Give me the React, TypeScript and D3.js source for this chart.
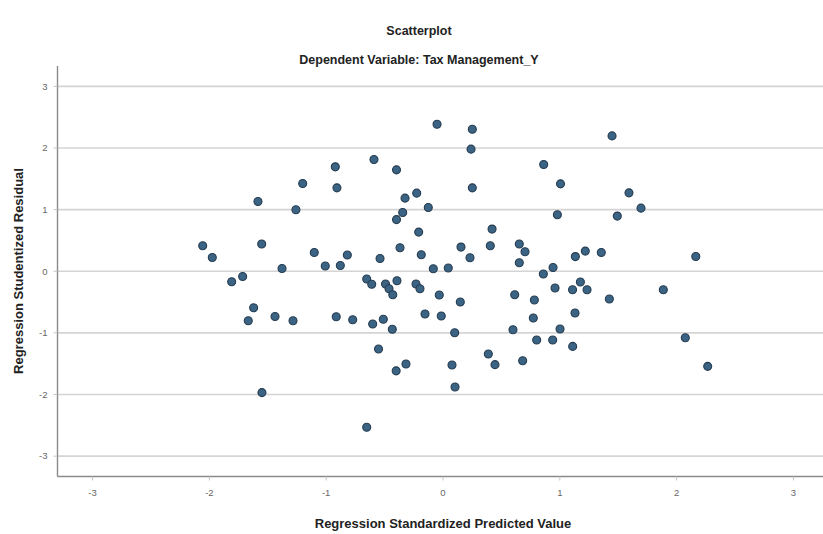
import React from "react";
import * as d3 from "d3";

// Regression Standardized Predicted Value (x) and Studentized Residual (y)
const predicted = [
  -2.057, -1.975, -1.809, -1.715, -1.584, -1.552, -1.378, -1.259, -1.201, -1.102,
  -1.008, -0.922, -0.908, -0.879, -0.819, -0.653, -0.61, -0.591, -0.539, -0.492,
  -0.398, -0.398, -0.394, -0.368, -0.051, 0.251, 0.24, -0.225, -0.325, -0.126,
  0.251, -0.345, -0.208, 0.42, 0.862, 1.006, 0.979, -0.186, 0.154, 0.231,
  0.405, 0.653, 0.702, 0.653, -0.083, 0.045, 0.859, 0.942, 1.133, 1.218,
  1.355, 1.176, 0.959, 1.109, 1.233, -0.231, -0.197, 1.447, 1.592, 1.695,
  1.492, 2.164, 1.886, 1.424, 1.13, 1.002, 1.11, 2.074, 2.266, -0.462,
  -0.43, -0.032, 0.148, -0.154, -0.015, -0.511, -0.434, 0.1, -0.552, -0.317,
  -0.401, 0.077, 0.103, 0.388, 0.445, 0.614, 0.782, 0.773, 0.599, 0.802,
  0.939, 0.682, -1.621, -1.667, -1.438, -1.284, -0.914, -0.773, -0.602, -1.55,
  -0.653,
];
const residual = [
  0.413, 0.224, -0.17, -0.084, 1.131, 0.441, 0.045, 0.997, 1.423, 0.305,
  0.084, 1.694, 1.353, 0.094, 0.263, -0.126, -0.211, 1.812, 0.207, -0.207,
  1.645, 0.838, -0.154, 0.381, 2.386, 2.305, 1.981, 1.267, 1.186, 1.034,
  1.353, 0.953, 0.635, 0.684, 1.731, 1.418, 0.916, 0.267, 0.392, 0.219,
  0.413, 0.441, 0.316, 0.138, 0.041, 0.052, -0.045, 0.062, 0.238, 0.327,
  0.305, -0.175, -0.272, -0.3, -0.3, -0.207, -0.284, 2.196, 1.272, 1.024,
  0.895, 0.24, -0.3, -0.451, -0.677, -0.937, -1.219, -1.078, -1.543, -0.284,
  -0.381, -0.386, -0.499, -0.694, -0.726, -0.778, -0.94, -0.997, -1.261, -1.504,
  -1.616, -1.52, -1.877, -1.342, -1.515, -0.381, -0.467, -0.759, -0.948, -1.115,
  -1.115, -1.451, -0.592, -0.802, -0.733, -0.802, -0.737, -0.786, -0.856, -1.969,
  -2.532,
];

const xTicks = [-3, -2, -1, 0, 1, 2, 3];
const yTicks = [-3, -2, -1, 0, 1, 2, 3];

const chartTitle = "Scatterplot";
const chartSubtitle = "Dependent Variable: Tax Management_Y";
const xTitle = "Regression Standardized Predicted Value";
const yTitle = "Regression Studentized Residual";

export default function App() {
  const W = 823;
  const H = 534;
  const left = 57.5;
  const right = 828.5;
  const top = 66;
  const bottom = 476.5;

  const x = d3.scaleLinear().domain([-3.3, 3.3]).range([left, right]);
  const y = d3.scaleLinear().domain([-3.33, 3.33]).range([bottom, top]);

  const points = predicted.map((p, i) => ({ px: p, py: residual[i] }));
  const font = "'Liberation Sans', Arial, sans-serif";

  return (
    <svg
      width={W}
      height={H}
      viewBox={`0 0 ${W} ${H}`}
      style={{ position: "absolute", left: 0, top: 0, background: "#fff" }}
      fontFamily={font}
    >
      <rect x={0} y={0} width={W} height={H} fill="#fff" />
      <text x={419} y={35} textAnchor="middle" fontSize={12.5} fontWeight="bold" fill="#222">
        {chartTitle}
      </text>
      <text x={419} y={64} textAnchor="middle" fontSize={12.5} fontWeight="bold" fill="#222">
        {chartSubtitle}
      </text>

      {/* gridlines */}
      {yTicks.map((t) => (
        <line
          key={"g" + t}
          x1={left}
          x2={right}
          y1={y(t)}
          y2={y(t)}
          stroke="#d4d4d4"
          strokeWidth={1.6}
        />
      ))}

      {/* axes */}
      <line x1={left} x2={left} y1={top} y2={bottom} stroke="#8a8a8a" strokeWidth={1.4} />
      <line x1={left} x2={right} y1={bottom} y2={bottom} stroke="#8a8a8a" strokeWidth={1.4} />

      {/* y tick labels */}
      {yTicks.map((t) => (
        <g key={"yt" + t}>
          <line x1={left - 4} x2={left} y1={y(t)} y2={y(t)} stroke="#c4c4c4" strokeWidth={1} />
          <text
            x={left - 10}
            y={y(t)}
            dy="0.35em"
            textAnchor="end"
            fontSize={9.5}
            fill="#666"
          >
            {t}
          </text>
        </g>
      ))}

      {/* x tick labels */}
      {xTicks.map((t) => (
        <g key={"xt" + t}>
          <line x1={x(t)} x2={x(t)} y1={bottom} y2={bottom + 4} stroke="#c4c4c4" strokeWidth={1} />
          <text x={x(t)} y={496} textAnchor="middle" fontSize={9.5} fill="#666">
            {t}
          </text>
        </g>
      ))}

      {/* axis titles */}
      <text x={443} y={528} textAnchor="middle" fontSize={13} fontWeight="bold" fill="#222">
        {xTitle}
      </text>
      <text
        transform={`translate(23, 271) rotate(-90)`}
        textAnchor="middle"
        fontSize={13}
        fontWeight="bold"
        fill="#222"
      >
        {yTitle}
      </text>

      {/* points */}
      {points.map((d, i) => (
        <circle
          key={i}
          cx={x(d.px)}
          cy={y(d.py)}
          r={4}
          fill="#3a6384"
          stroke="#263c50"
          strokeWidth={1.1}
        />
      ))}
    </svg>
  );
}
